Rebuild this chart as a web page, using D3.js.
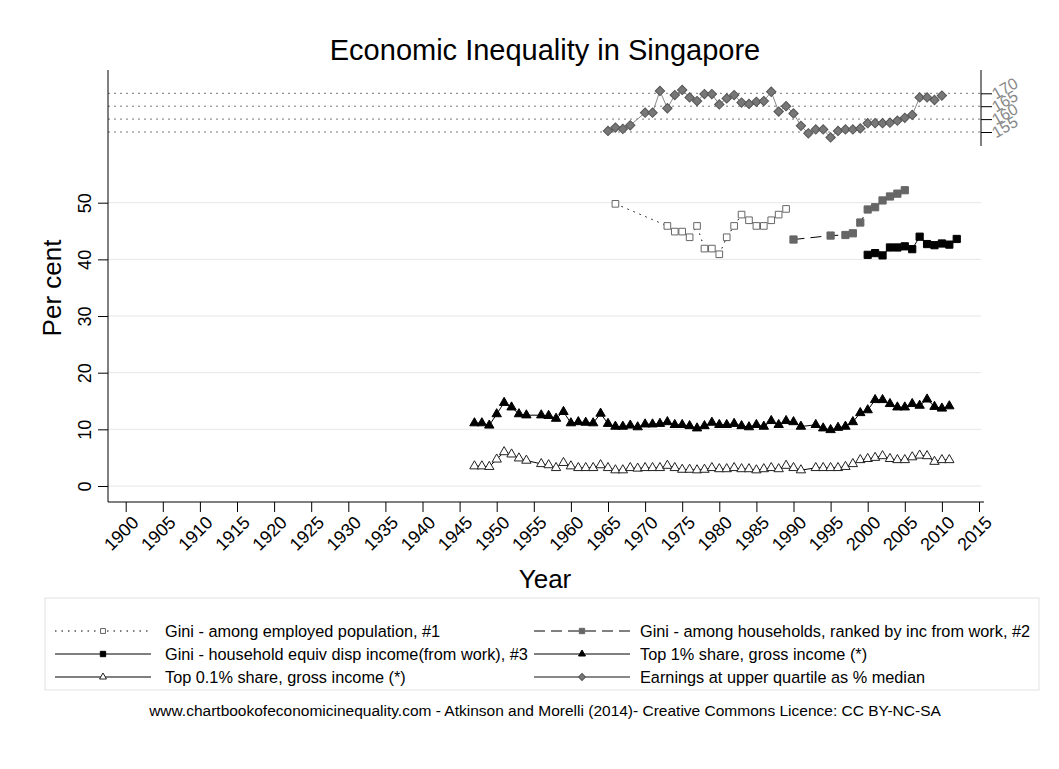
<!DOCTYPE html>
<html>
<head>
<meta charset="utf-8">
<script src="https://cdn.jsdelivr.net/npm/d3@7"></script>
<style>
  body { margin: 0; background: #fff; }
  text { font-family: Arial, "Liberation Sans", sans-serif; }
</style>
</head>
<body>
<div id="chart"></div>
<script>
// Economic inequality in Singapore

const xTicks = d3.range(1900, 2016, 5)
const yTicks = [0, 10, 20, 30, 40, 50]
const y2Ticks = [155, 160, 165, 170]

const gini1Years = [1966, 1973, 1974, 1975, 1976, 1977, 1978, 1979, 1980, 1981, 1982, 1983, 1984, 1985, 1986, 1987, 1988, 1989]
const gini1Values = [49.8, 45.9, 44.9, 44.9, 43.9, 45.9, 41.9, 41.9, 40.9, 43.9, 45.9, 47.9, 46.9, 45.9, 45.9, 46.9, 47.9, 48.9]

const gini2Years = [1990, 1995, 1997, 1998, 1999, 2000, 2001, 2002, 2003, 2004, 2005]
const gini2Values = [43.5, 44.2, 44.3, 44.6, 46.5, 48.8, 49.2, 50.4, 51.1, 51.6, 52.2]

const gini3Years = d3.range(2000, 2013)
const gini3Values = [40.8, 41.1, 40.7, 42.1, 42.1, 42.3, 41.8, 44.0, 42.7, 42.5, 42.8, 42.6, 43.6]

const topYears = [1947, 1948, 1949, 1950, 1951, 1952, 1953, 1954,
  1956, 1957, 1958, 1959, 1960, 1961, 1962, 1963, 1964, 1965, 1966, 1967, 1968, 1969, 1970,
  1971, 1972, 1973, 1974, 1975, 1976, 1977, 1978, 1979, 1980, 1981, 1982, 1983, 1984, 1985,
  1986, 1987, 1988, 1989, 1990, 1991,
  1993, 1994, 1995, 1996, 1997, 1998, 1999, 2000, 2001, 2002, 2003, 2004, 2005, 2006, 2007,
  2008, 2009, 2010, 2011]
const top1Values = [11.1, 11.1, 10.7, 12.7, 14.7, 13.9, 12.7, 12.5,
  12.5, 12.4, 11.9, 13.1, 11.1, 11.3, 11.2, 11.1, 12.8, 11.0, 10.5, 10.5, 10.7, 10.4, 10.9,
  10.9, 11.0, 11.3, 10.8, 10.8, 10.6, 10.2, 10.6, 11.2, 10.8, 10.8, 11.0, 10.6, 10.4, 10.8,
  10.5, 11.5, 10.8, 11.5, 11.3, 10.5,
  10.8, 10.2, 9.9, 10.3, 10.5, 11.3, 12.9, 13.4, 15.2, 15.2, 14.5, 13.9, 13.9, 14.5, 14.2,
  15.3, 14.0, 13.7, 14.1]
const top01Values = [3.5, 3.5, 3.4, 4.7, 6.0, 5.6, 4.9, 4.5,
  3.9, 3.7, 3.2, 4.1, 3.5, 3.2, 3.2, 3.2, 3.7, 3.2, 2.8, 2.8, 3.2, 3.1, 3.2,
  3.2, 3.2, 3.6, 3.2, 2.9, 2.9, 2.8, 2.9, 3.2, 3.0, 3.0, 3.2, 3.0, 3.0, 2.8,
  3.0, 3.2, 3.0, 3.6, 3.2, 2.8,
  3.2, 3.2, 3.2, 3.2, 3.4, 3.9, 4.6, 4.8, 5.0, 5.3, 4.8, 4.6, 4.6, 5.1, 5.4,
  5.3, 4.3, 4.6, 4.6]

const earnYears = [1965, 1966, 1967, 1968, 1970, 1971, 1972, 1973, 1974, 1975, 1976, 1977, 1978,
  1979, 1980, 1981, 1982, 1983, 1984, 1985, 1986, 1987, 1988, 1989, 1990, 1991, 1992, 1993,
  1994, 1995, 1996, 1997, 1998, 1999, 2000, 2001, 2002, 2003, 2004, 2005, 2006, 2007, 2008,
  2009, 2010]
const earnValues = [155.4, 156.7, 156.2, 157.6, 162.5, 162.5, 170.9, 164.2, 169.3, 171.3, 168.4,
  167.0, 169.7, 169.7, 165.7, 168.0, 169.3, 166.4, 165.9, 166.7, 167.0, 170.6, 162.9, 165.0,
  162.2, 157.4, 154.5, 156.0, 156.0, 152.9, 155.4, 156.0, 156.0, 156.4, 158.4, 158.4, 158.4,
  158.6, 159.4, 160.5, 161.6, 168.4, 168.4, 167.4, 169.1]

const width = 1059
const height = 769
const plot = {left: 108, right: 981, top: 70, bottom: 502}

const x = d3.scaleLinear().domain([1900, 2015]).range([125.7, 979])
const y = d3.scaleLinear().domain([0, 50]).range([486, 202.7])
const y2 = d3.scaleLinear().domain([155, 170]).range([132, 93.3])

const svg = d3.select('#chart').append('svg')
    .attr('width', width)
    .attr('height', height)
    .style('background', '#fff')

// gridlines
svg.append('g').selectAll('line').data(yTicks).join('line')
    .attr('x1', plot.left).attr('x2', plot.right)
    .attr('y1', d => y(d)).attr('y2', d => y(d))
    .attr('stroke', '#e6e6e6')
svg.append('g').selectAll('line').data(y2Ticks).join('line')
    .attr('x1', plot.left).attr('x2', plot.right)
    .attr('y1', d => y2(d)).attr('y2', d => y2(d))
    .attr('stroke', '#777')
    .attr('stroke-dasharray', '2,4')

// x axis
const xAxis = svg.append('g')
    .attr('transform', 'translate(0,' + plot.bottom + ')')
    .call(d3.axisBottom(x).tickValues(xTicks).tickSize(10).tickFormat(d3.format('d')))
xAxis.select('.domain').remove()
xAxis.selectAll('line').attr('stroke', '#000')
xAxis.selectAll('text')
    .attr('x', 0).attr('y', 0).attr('dy', '0.75em')
    .attr('transform', 'translate(4,12)rotate(-45)')
    .style('text-anchor', 'end')
    .style('font-size', '18px')
    .attr('fill', '#000')
svg.append('line')
    .attr('x1', plot.left).attr('x2', plot.right + 3)
    .attr('y1', plot.bottom).attr('y2', plot.bottom)
    .attr('stroke', '#000')

// left y axis
const yAxis = svg.append('g')
    .attr('transform', 'translate(' + plot.left + ',0)')
    .call(d3.axisLeft(y).tickValues(yTicks).tickSize(10))
yAxis.select('.domain').remove()
yAxis.selectAll('line').attr('stroke', '#000')
yAxis.selectAll('text')
    .attr('x', 0).attr('y', -17).attr('dy', 0)
    .attr('transform', 'rotate(-90)')
    .style('text-anchor', 'middle')
    .style('font-size', '18px')
    .attr('fill', '#000')
svg.append('line')
    .attr('x1', plot.left).attr('x2', plot.left)
    .attr('y1', plot.top).attr('y2', plot.bottom)
    .attr('stroke', '#000')

// right axis for the earnings series
const y2Axis = svg.append('g')
    .attr('transform', 'translate(' + plot.right + ',0)')
    .call(d3.axisRight(y2).tickValues(y2Ticks).tickSize(11))
y2Axis.select('.domain').remove()
y2Axis.selectAll('line').attr('stroke', '#000')
y2Axis.selectAll('text')
    .attr('x', 0).attr('dy', 0)
    .attr('transform', 'translate(15,6)rotate(-30)')
    .style('font-size', '16px')
    .attr('fill', '#888')
svg.append('line')
    .attr('x1', plot.right).attr('x2', plot.right)
    .attr('y1', plot.top).attr('y2', 146)
    .attr('stroke', '#000')

// series
const line = d3.line().x(d => x(d[0])).y(d => y(d[1]))
const line2 = d3.line().x(d => x(d[0])).y(d => y2(d[1]))

const series = [
  {label: 'Gini - among employed population, #1', data: d3.zip(gini1Years, gini1Values), gen: line,
    stroke: '#000', dash: '1.5,5', sym: d3.symbolSquare, size: 44, fill: '#fff', mstroke: '#666'},
  {label: 'Gini - among households, ranked by inc from work, #2', data: d3.zip(gini2Years, gini2Values), gen: line,
    stroke: '#000', dash: '11,6', sym: d3.symbolSquare, size: 52, fill: '#666', mstroke: '#666'},
  {label: 'Gini - household equiv disp income(from work), #3', data: d3.zip(gini3Years, gini3Values), gen: line,
    stroke: '#000', dash: null, sym: d3.symbolSquare, size: 52, fill: '#000', mstroke: '#000'},
  {label: 'Top 1% share, gross income (*)', data: d3.zip(topYears, top1Values), gen: line,
    stroke: '#000', dash: null, sym: d3.symbolTriangle, size: 38, fill: '#000', mstroke: '#000'},
  {label: 'Top 0.1% share, gross income (*)', data: d3.zip(topYears, top01Values), gen: line,
    stroke: '#000', dash: null, sym: d3.symbolTriangle, size: 38, fill: '#fff', mstroke: '#222'},
  {label: 'Earnings at upper quartile as % median', data: d3.zip(earnYears, earnValues), gen: line2,
    stroke: '#888', dash: null, sym: d3.symbolSquare, size: 44, fill: '#777', mstroke: '#555', rot: 45}
]

series.forEach(s => {
  const g = svg.append('g')
  g.append('path')
      .attr('d', s.gen(s.data))
      .attr('fill', 'none')
      .attr('stroke', s.stroke)
      .attr('stroke-width', 1)
      .attr('stroke-dasharray', s.dash)
  const yy = s.gen === line2 ? y2 : y
  g.selectAll('path.pt').data(s.data).join('path')
      .attr('class', 'pt')
      .attr('d', d3.symbol().type(s.sym).size(s.size))
      .attr('transform', d => 'translate(' + x(d[0]) + ',' + yy(d[1]) + ')' + (s.rot ? 'rotate(' + s.rot + ')' : ''))
      .attr('fill', s.fill)
      .attr('stroke', s.mstroke)
      .attr('stroke-width', 1)
})

// titles
svg.append('text')
    .attr('x', 545).attr('y', 60)
    .style('text-anchor', 'middle')
    .style('font-size', '29px')
    .text('Economic Inequality in Singapore')
svg.append('text')
    .attr('x', 545).attr('y', 588)
    .style('text-anchor', 'middle')
    .style('font-size', '26px')
    .text('Year')
svg.append('text')
    .attr('transform', 'translate(61,288)rotate(-90)')
    .style('text-anchor', 'middle')
    .style('font-size', '26px')
    .text('Per cent')

// legend
const legend = svg.append('g')
legend.append('rect')
    .attr('x', 45).attr('y', 598)
    .attr('width', 994).attr('height', 92)
    .attr('fill', '#fff')
    .attr('stroke', '#e2e2e2')

const cols = [{keyX: 55, textX: 165}, {keyX: 534, textX: 640}]
const rowY = [631, 654, 677]
series.forEach((s, i) => {
  const c = cols[i % 2]
  const ry = rowY[Math.floor(i / 2)]
  const item = legend.append('g').attr('transform', 'translate(0,' + ry + ')')
  item.append('line')
      .attr('x1', c.keyX).attr('x2', c.keyX + 96)
      .attr('stroke', s.stroke)
      .attr('stroke-width', s.stroke === '#888' ? 2 : 1)
      .attr('stroke-dasharray', s.dash)
  item.append('path')
      .attr('d', d3.symbol().type(s.sym).size(s.size * 0.55))
      .attr('transform', 'translate(' + (c.keyX + 48) + ',0)' + (s.rot ? 'rotate(' + s.rot + ')' : ''))
      .attr('fill', s.fill)
      .attr('stroke', s.mstroke)
  item.append('text')
      .attr('x', c.textX).attr('dy', '0.35em')
      .style('font-size', '16.3px')
      .text(s.label)
})

svg.append('text')
    .attr('x', 545).attr('y', 716)
    .style('text-anchor', 'middle')
    .style('font-size', '15.5px')
    .text('www.chartbookofeconomicinequality.com - Atkinson and Morelli (2014)- Creative Commons Licence: CC BY-NC-SA')
</script>
</body>
</html>
